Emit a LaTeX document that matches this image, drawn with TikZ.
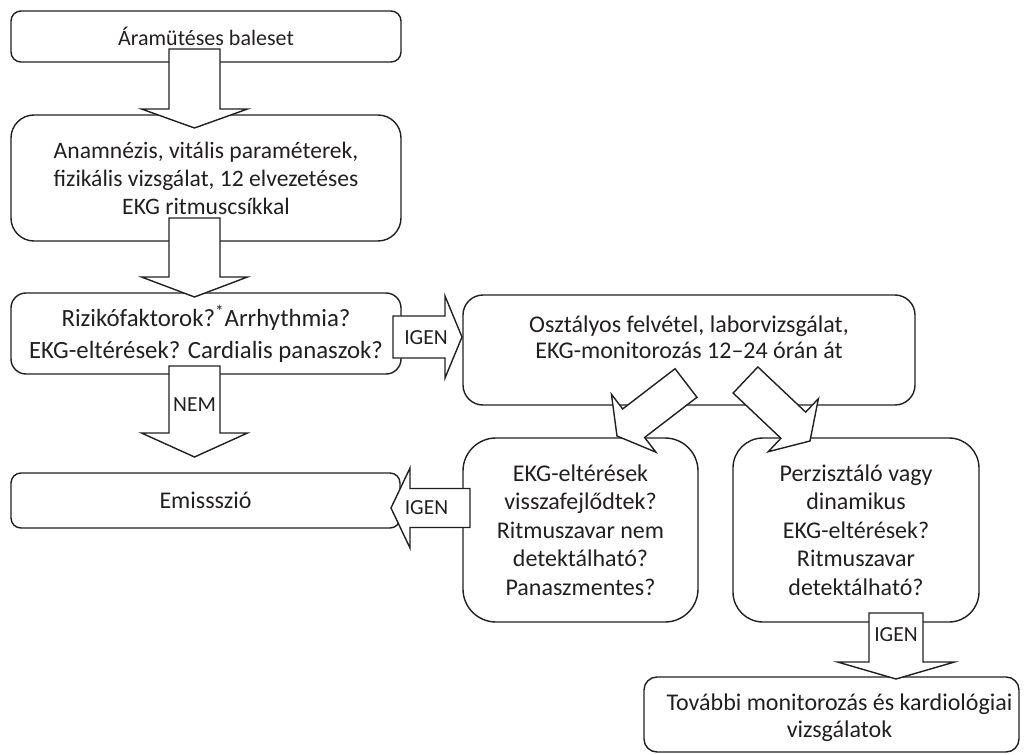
\documentclass[tikz,border=0pt]{standalone}
\usepackage{fontspec}
\setmainfont{Carlito}
\usetikzlibrary{calc}
\definecolor{ink}{HTML}{231F20}

% block arrow: start, tip, half body width, half head width, head length
\newcommand{\blockarrow}[5]{%
  \draw[barrow] ($(#1)!#3!90:(#2)$) -- ($(#2)!#5!(#1)!#3!90:(#2)$)
    -- ($(#2)!#5!(#1)!#4!90:(#2)$) -- (#2)
    -- ($(#2)!#5!(#1)!#4!-90:(#2)$) -- ($(#2)!#5!(#1)!#3!-90:(#2)$)
    -- ($(#1)!#3!-90:(#2)$) -- cycle;
}

\begin{document}
\begin{tikzpicture}[x=0.5pt, y=-0.5pt,
    box/.style={draw=ink, line width=0.7pt, align=center, inner sep=0pt, text=ink,
      font=\fontsize{12}{14.25}\selectfont},
    txt/.style={align=center, inner sep=0pt, text=ink, font=\fontsize{12}{13}\selectfont},
    barrow/.style={draw=ink, fill=white, line width=0.7pt, line join=miter},
    lbl/.style={text=ink, inner sep=0pt, font=\fontsize{10.75}{13}\selectfont}]

    \useasboundingbox (0,0) rectangle (1024,755);

    % Left column
    \node[box, rounded corners=5pt, minimum width=195pt, minimum height=25.5pt,
      font=\fontsize{11}{13}\selectfont] (baleset) at (206,36.5) {Áramütéses baleset};
    \node[box, rounded corners=11.5pt, minimum width=195pt, minimum height=63pt,
      font=\fontsize{11.8}{14}\selectfont] (anamnezis) at (206,178)
      {Anamnézis, vitális paraméterek,\\fizikális vizsgálat, 12 elvezetéses\\EKG ritmuscsíkkal};
    \node[box, rounded corners=7.5pt, minimum width=195pt, minimum height=40.5pt,
      font=\fontsize{12.4}{16}\selectfont] (rizikó) at (206,333.5)
      {Rizikófaktorok?\textsuperscript{*}Arrhythmia?\\EKG-eltérések? Cardialis panaszok?};
    \node[box, rounded corners=5pt, minimum width=194.5pt, minimum height=27.5pt]
      (emisszio) at (205.5,500.5) {Emissszió};

    % Right part
    \node[box, rounded corners=10pt, minimum width=226pt, minimum height=55pt] (osztaly) at (689,350) {};
    \node[txt] (osztalytxt) at (689,337) {Osztályos felvétel, laborvizsgálat,\\EKG-monitorozás 12–24 órán át};
    \node[box, rounded corners=16.5pt, minimum width=117.5pt, minimum height=92pt] (vissza) at (580.5,530)
      {EKG-eltérések\\visszafejlődtek?\\Ritmuszavar nem\\detektálható?\\Panaszmentes?};
    \node[box, rounded corners=15pt, minimum width=123pt, minimum height=92pt] (perziszt) at (856,530)
      {Perzisztáló vagy\\dinamikus\\EKG-eltérések?\\Ritmuszavar\\detektálható?};
    \node[box, rounded corners=6.5pt, minimum width=187.5pt, minimum height=37.5pt] (tovabbi) at (831.5,714.5) {};
    \node[txt, font=\fontsize{12}{13.5}\selectfont] (tovabbitxt) at (839.5,718)
      {További monitorozás és kardiológiai\\vizsgálatok};

    % Arrow ends
    \coordinate (s1) at (194.5,49);   \coordinate (t1) at (194.5,128);
    \coordinate (s2) at (194.5,218);  \coordinate (t2) at (194.5,297);
    \coordinate (s3) at (194.5,366);  \coordinate (t3) at (194.5,457);
    \coordinate (s4) at (393,337);    \coordinate (t4) at (462,337);
    \coordinate (s5) at (470,508);    \coordinate (t5) at (391,508);
    \coordinate (s6) at (686,383);    \coordinate (t6) at (617,436);
    \coordinate (s7) at (745.5,380);  \coordinate (t7) at (810,441);
    \coordinate (s8) at (896,613);    \coordinate (t8) at (896,679);

    % Block arrows
    \blockarrow{s1}{t1}{12.75pt}{26.5pt}{9.5pt}
    \blockarrow{s2}{t2}{12.75pt}{26.5pt}{10pt}
    \blockarrow{s3}{t3}{12.75pt}{26.5pt}{12pt}
    \blockarrow{s4}{t4}{10.5pt}{20.5pt}{8.5pt}
    \blockarrow{s5}{t5}{9.75pt}{20pt}{9.5pt}
    \blockarrow{s6}{t6}{9pt}{18.25pt}{10.5pt}
    \blockarrow{s7}{t7}{9pt}{18.25pt}{11.5pt}
    \blockarrow{s8}{t8}{13.5pt}{29.25pt}{8.5pt}

    % Arrow labels
    \node[lbl] (nem) at (194.5,405) {NEM};
    \node[lbl] (igen1) at (426,338) {IGEN};
    \node[lbl] (igen2) at (426.5,508) {IGEN};
    \node[lbl] (igen3) at (896,635) {IGEN};
\end{tikzpicture}
\end{document}
